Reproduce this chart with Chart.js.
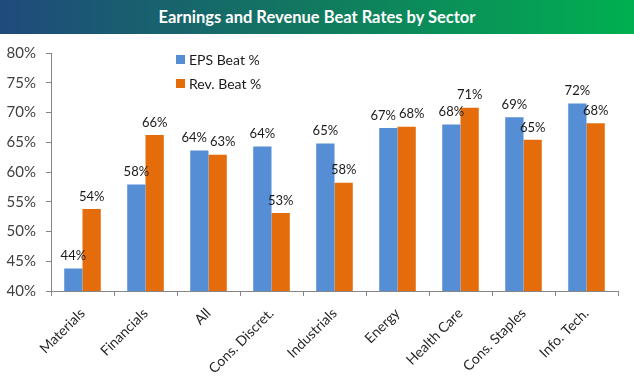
<!DOCTYPE html>
<html>
<head>
<meta charset="utf-8">
<script src="https://cdn.jsdelivr.net/npm/chart.js@4/dist/chart.umd.min.js"></script>
<style>
  html, body { margin: 0; padding: 0; background: #fff; }
  #wrap { width: 634px; height: 378px; position: relative; overflow: hidden; }
  #title { position: absolute; left: 0; top: 0; width: 634px; height: 34px;
    background: linear-gradient(to right, #1f4a7c 0%, #117a5f 50%, #00b050 100%);
    color: #fff; font-family: Lato, "Liberation Sans", sans-serif; font-weight: bold;
    font-size: 16.5px; line-height: 35px; text-align: center; }
  #cv { position: absolute; left: 0; top: 34px; }
</style>
</head>
<body>
<div id="wrap">
  <div id="title">Earnings and Revenue Beat Rates by Sector</div>
  <canvas id="cv" width="634" height="344"></canvas>
</div>
<script>
const categories = ["Materials", "Financials", "All", "Cons. Discret.", "Industrials", "Energy", "Health Care", "Cons. Staples", "Info. Tech."];
const epsBeat = [43.8, 57.9, 63.6, 64.3, 64.8, 67.4, 68.0, 69.2, 71.5];
const revBeat = [53.8, 66.2, 62.9, 53.1, 58.2, 67.6, 70.8, 65.4, 68.2];
const seriesNames = ["EPS Beat %", "Rev. Beat %"];
const yTickMin = 40, yTickMax = 80, yTickStep = 5;

const FONT = "Lato, 'Liberation Sans', sans-serif";
const AXIS = "#868686";

const valueLabels = {
  id: 'valueLabels',
  afterDatasetsDraw(chart) {
    const ctx = chart.ctx;
    ctx.save();
    ctx.font = "13px " + FONT;
    ctx.fillStyle = "#1a1a1a";
    ctx.textAlign = "center";
    ctx.textBaseline = "bottom";
    const m0 = chart.getDatasetMeta(0).data, m1 = chart.getDatasetMeta(1).data;
    const d0 = chart.data.datasets[0].data, d1 = chart.data.datasets[1].data;
    m0.forEach((b0, j) => {
      const b1 = m1[j];
      const t0 = Math.round(d0[j]) + "%", t1 = Math.round(d1[j]) + "%";
      const w0 = ctx.measureText(t0).width, w1 = ctx.measureText(t1).width;
      let x0 = b0.x, x1 = b1.x;
      const y0 = b0.y - 6, y1 = b1.y - 6;
      if (Math.abs(y0 - y1) < 14) {
        const gap = (x1 - w1 / 2) - (x0 + w0 / 2);
        if (gap < 3) { const s = (3 - gap) / 2; x0 -= s; x1 += s; }
      }
      ctx.fillText(t0, x0, y0);
      ctx.fillText(t1, x1, y1);
    });
    ctx.restore();
  }
};

const innerLegend = {
  id: 'innerLegend',
  afterDraw(chart) {
    const ctx = chart.ctx;
    ctx.save();
    ctx.font = "14px " + FONT;
    ctx.textBaseline = "middle";
    chart.data.datasets.forEach((ds, i) => {
      const y = 25 + i * 24;
      ctx.fillStyle = ds.backgroundColor;
      ctx.fillRect(176, y - 4, 9, 9);
      ctx.fillStyle = "#1a1a1a";
      ctx.fillText(ds.label, 189, y + 1);
    });
    ctx.restore();
  }
};

new Chart(document.getElementById('cv'), {
  type: 'bar',
  data: {
    labels: categories,
    datasets: [
      { label: seriesNames[0], data: epsBeat, backgroundColor: "#558ed5" },
      { label: seriesNames[1], data: revBeat, backgroundColor: "#e46c0a" }
    ]
  },
  options: {
    responsive: false,
    animation: false,
    devicePixelRatio: 1,
    layout: { padding: { left: 0, right: 16, top: 13, bottom: 0 } },
    datasets: { bar: { categoryPercentage: 0.58, barPercentage: 1.0 } },
    plugins: { legend: { display: false }, tooltip: { enabled: false } },
    scales: {
      x: {
        grid: { display: true, drawOnChartArea: false, drawTicks: true, tickLength: 5, color: AXIS, offset: true },
        border: { color: AXIS },
        ticks: { maxRotation: 45, minRotation: 45, font: { size: 14, family: FONT }, color: "#262626", padding: 9 },
        afterFit(s) { s.height = 87; }
      },
      y: {
        min: yTickMin, max: yTickMax,
        grid: { display: true, drawOnChartArea: false, drawTicks: true, tickLength: 5, color: AXIS },
        border: { color: AXIS },
        ticks: { stepSize: yTickStep, callback: v => v + "%", font: { size: 15, family: FONT }, color: "#404040", padding: 10 },
        afterFit(s) { s.width = 51; }
      }
    }
  },
  plugins: [valueLabels, innerLegend]
});
</script>
</body>
</html>
